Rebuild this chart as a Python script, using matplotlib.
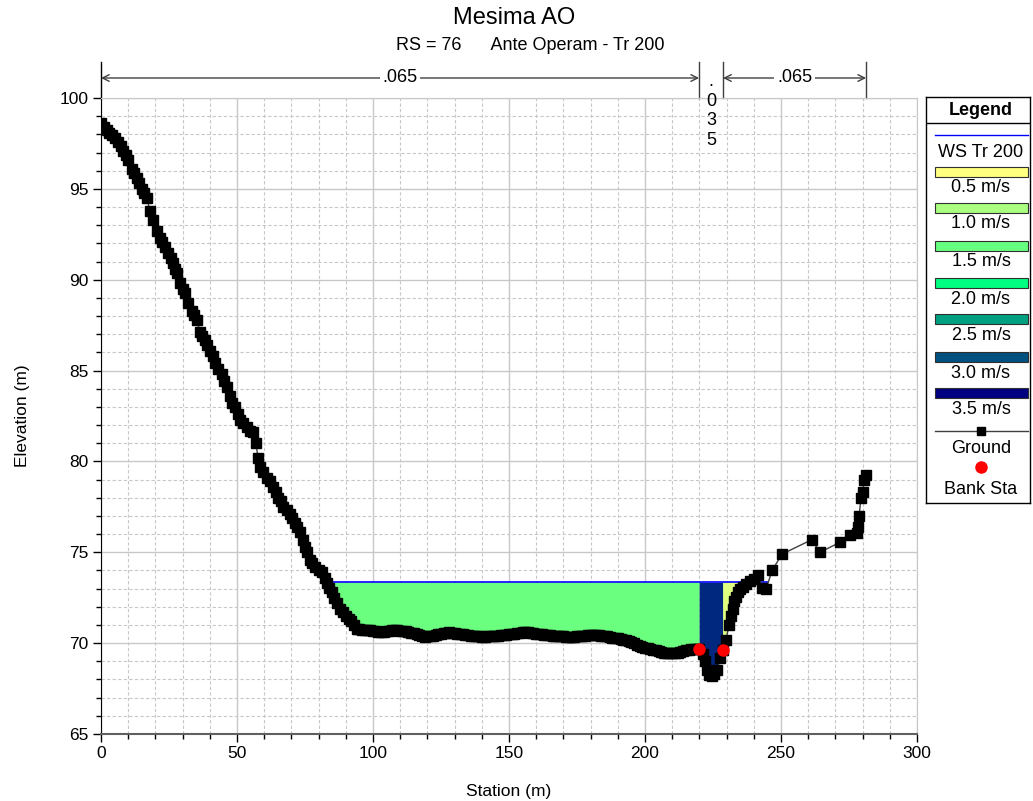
import numpy as np
import matplotlib
matplotlib.use('Agg')
import matplotlib.pyplot as plt
from matplotlib.transforms import blended_transform_factory
from matplotlib.patches import Rectangle
from matplotlib.ticker import MultipleLocator

# ============ Data ============
station = [0, 1.2, 2.1, 3.0, 3.9, 5.0, 6.4, 7.3, 8.2, 9.1, 10.0, 11.3, 12.2, 13.1, 14.0,
           14.9, 15.8, 16.8, 18.0, 19.2, 20.5, 21.7, 22.6, 23.5, 24.7, 25.6, 26.5, 27.3,
           28.0, 29.0, 30.0, 30.9, 32.1, 33.3, 34.2, 35.2, 36.4, 37.3, 38.2, 39.0, 40.1,
           41.2, 42.0, 43.0, 44.5, 45.3, 46.3, 47.3, 48.3, 49.3, 50.2, 51.1, 52.2, 53.5,
           54.8, 55.9, 57.0, 57.7, 58.5, 59.7, 61.0, 62.1, 63.2, 64.2, 65.1, 66.0, 66.9,
           68.2, 69.5, 70.4, 71.3, 72.2, 73.2, 74.1, 75.0, 75.9, 76.8, 77.7, 78.7, 80.0,
           81.3, 82.2, 83.1, 84.0, 84.9, 85.8, 86.8, 87.9,
           89, 90, 91, 92, 93, 94, 95, 96, 97, 98, 99, 100, 101, 102, 103, 104, 105, 106,
           107, 108, 109, 110, 111, 112, 113, 114, 115, 116, 117, 118, 119, 120, 121, 122,
           123, 124, 125, 126, 127, 128, 129, 130, 131, 132, 133, 134, 135, 136, 137, 138,
           139, 140, 141, 142, 143, 144, 145, 146, 147, 148, 149, 150, 151, 152, 153, 154,
           155, 156, 157, 158, 159, 160, 161, 162, 163, 164, 165, 166, 167, 168, 169, 170,
           171, 172, 173, 174, 175, 176, 177, 178, 179, 180, 181, 182, 183, 184, 185, 186,
           187, 188, 189, 190, 191, 192, 193, 194, 195, 196, 197, 198, 199, 200, 201, 202,
           203, 204, 205, 206, 207, 208, 209, 210, 211, 212, 213, 214, 215, 216, 217, 218,
           219, 219.9, 221.5, 222.1, 222.8, 223.6, 224.6, 225.5, 226.5, 227.6, 228.7, 229.8,
           230.9, 231.6, 232.2, 232.7, 233.4, 234.2, 235.0, 236.0, 237.3, 238.6, 240.0,
           241.5, 243.0, 244.6, 246.7, 250.4, 261.4, 264.3, 271.7, 275.4, 277.9, 278.3,
           278.7, 279.4, 280.1, 280.5, 281.3]
elevation = [98.65, 98.4, 98.25, 98.1, 97.95, 97.8, 97.6, 97.35, 97.1, 96.85, 96.6, 96.1,
             95.85, 95.6, 95.3, 95.0, 94.75, 94.5, 93.8, 93.3, 92.7, 92.3, 92.05, 91.8,
             91.45, 91.2, 90.9, 90.6, 90.35, 89.8, 89.5, 89.25, 88.7, 88.3, 88.05, 87.8,
             87.1, 86.9, 86.7, 86.4, 86.1, 85.8, 85.4, 85.1, 84.8, 84.4, 84.1, 83.6, 83.2,
             83.0, 82.6, 82.3, 82.1, 81.9, 81.7, 81.6, 81.0, 80.2, 79.7, 79.4, 79.1, 78.9,
             78.6, 78.3, 78.0, 77.8, 77.5, 77.3, 77.1, 76.9, 76.6, 76.4, 76.1, 75.7, 75.3,
             75.0, 74.6, 74.4, 74.2, 74.05, 73.9, 73.6, 73.3, 73.05, 72.8, 72.5, 72.2,
             71.9,
             71.7, 71.5, 71.35, 71.2, 71.0, 70.8, 70.78, 70.75, 70.72, 70.7, 70.7, 70.65,
             70.65, 70.6, 70.6, 70.62, 70.65, 70.68, 70.7, 70.7, 70.7, 70.68, 70.65, 70.65,
             70.6, 70.58, 70.55, 70.5, 70.45, 70.38, 70.35, 70.38, 70.4, 70.42, 70.45,
             70.48, 70.5, 70.55, 70.58, 70.6, 70.58, 70.55, 70.52, 70.5, 70.48, 70.45,
             70.45, 70.42, 70.4, 70.4, 70.38, 70.35, 70.35, 70.38, 70.4, 70.4, 70.4, 70.42,
             70.45, 70.45, 70.45, 70.48, 70.5, 70.52, 70.55, 70.58, 70.6, 70.6, 70.6,
             70.58, 70.55, 70.52, 70.5, 70.48, 70.45, 70.45, 70.45, 70.42, 70.4, 70.4,
             70.4, 70.38, 70.36, 70.35, 70.35, 70.36, 70.38, 70.4, 70.4, 70.42, 70.44,
             70.45, 70.45, 70.45, 70.44, 70.42, 70.4, 70.38, 70.34, 70.3, 70.28, 70.26,
             70.24, 70.2, 70.16, 70.1, 70.05, 70.0, 69.92, 69.86, 69.8, 69.76, 69.72,
             69.68, 69.64, 69.6, 69.56, 69.52, 69.48, 69.45, 69.45, 69.45, 69.46, 69.48,
             69.5, 69.55, 69.6, 69.64, 69.68, 69.7, 69.7, 69.7,
             69.4, 69.0, 68.5, 68.25, 68.2, 68.3, 68.5, 69.2, 69.65, 70.2, 71.0, 71.5,
             71.9, 72.3, 72.55, 72.8, 73.0, 73.1, 73.25, 73.4, 73.55, 73.75, 73.05, 73.0,
             74.0, 74.9, 75.7, 75.0, 75.55, 75.95, 76.05, 76.4, 77.0, 78.0, 78.3, 79.0,
             79.25]

bank_sta = [219.9, 228.7]
bank_elev = [69.7, 69.65]
ws_elev = 73.35
ws_left, ws_right = 83.0, 245.3
mann_n = ['.065', '.035', '.065']

vel_labels = ['0.5 m/s', '1.0 m/s', '1.5 m/s', '2.0 m/s', '2.5 m/s', '3.0 m/s', '3.5 m/s']
vel_colors = ['#FFFF80', '#AAFF80', '#66FF80', '#00FF80', '#00A080', '#005080', '#000080']
sub_colors = ['#6BFF7F', '#00287F', '#E0FF80']   # LOB, channel, ROB

plt.rcParams['font.family'] = ['Liberation Sans', 'DejaVu Sans']

fig = plt.figure(figsize=(10.33, 8.01), dpi=100)
ax = fig.add_axes([101/1033, 1 - 734/801, 816/1033, 636/801])

st = np.array(station)
el = np.array(elevation)

# ============ Velocity fill per subsection ============
x_all = np.unique(np.concatenate([st, bank_sta]))
g_all = np.interp(x_all, st, el)
wet = (g_all <= ws_elev) & (x_all <= ws_right)
ax.fill_between(x_all, g_all, ws_elev, where=wet & (x_all <= bank_sta[0]),
                interpolate=True, color=sub_colors[0], lw=0, zorder=2)
ax.fill_between(x_all, g_all, ws_elev, where=wet & (x_all >= bank_sta[0]) & (x_all <= bank_sta[1]),
                interpolate=True, color=sub_colors[1], lw=0, zorder=2)
ax.fill_between(x_all, g_all, ws_elev, where=wet & (x_all >= bank_sta[1]),
                interpolate=True, color=sub_colors[2], lw=0, zorder=2)

ax.plot([ws_left, ws_right], [ws_elev, ws_elev], color='#0000FF', lw=1.2, zorder=3)
ax.plot(st, el, color='#404040', lw=1, marker='s', ms=6.5, mfc='black', mec='black', zorder=4)
ax.plot(bank_sta, bank_elev, 'o', color='red', ms=8, zorder=5, lw=0)

# ============ Axes ============
ax.set_xlim(0, 300)
ax.set_ylim(65, 100)
ax.xaxis.set_major_locator(MultipleLocator(50))
ax.xaxis.set_minor_locator(MultipleLocator(10))
ax.yaxis.set_major_locator(MultipleLocator(5))
ax.yaxis.set_minor_locator(MultipleLocator(1))
ax.grid(which='major', color='#C8C8C8', lw=1, ls='-', zorder=0)
ax.grid(which='minor', color='#C8C8C8', lw=0.8, ls=(0, (3, 2)), zorder=0)
ax.set_axisbelow(True)
ax.tick_params(which='major', direction='out', length=6, width=1, labelsize=12.5, pad=3)
ax.tick_params(which='minor', direction='out', length=3.6, width=1)
for s in ['top', 'right']:
    ax.spines[s].set_color('#C8C8C8')
ax.spines['left'].set_color('black')
ax.spines['bottom'].set_color('#606060')
ax.spines['bottom'].set_linewidth(1.5)
ax.set_xlabel('Station (m)', fontsize=12.5, labelpad=16)
ax.set_ylabel('Elevation (m)', fontsize=12.5, labelpad=21)

# ============ Title ============
fig.text(514/1033, 1 - 18/801, 'Mesima AO', ha='center', va='center', fontsize=17)
fig.text(530/1033, 1 - 45/801, 'RS = 76      Ante Operam - Tr 200', ha='center', va='center', fontsize=13)

# ============ Manning's n brackets ============
trans = blended_transform_factory(ax.transData, ax.transAxes)
y_arr = 1 + 20/636
y_top = 1 + 36/636
edges = [station[0], bank_sta[0], bank_sta[1], station[-1]]
for xe in edges:
    ax.plot([xe, xe], [1, y_top], transform=trans, color='black' if xe == edges[0] else '#404040',
            lw=1, clip_on=False)
for i in (0, 2):
    ax.annotate('', xy=(edges[i], y_arr), xytext=(edges[i + 1], y_arr), xycoords=trans,
                textcoords=trans, annotation_clip=False,
                arrowprops=dict(arrowstyle='<->', color='#404040', lw=1, shrinkA=0, shrinkB=0,
                                mutation_scale=12))
    ax.text((edges[i] + edges[i + 1]) / 2, y_arr, mann_n[i], transform=trans, ha='center',
            va='center', fontsize=13, clip_on=False,
            bbox=dict(fc='white', ec='none', pad=2))
ax.text((edges[1] + edges[2]) / 2, 1 + 25/636, '\n'.join(mann_n[1]), transform=trans,
        ha='center', va='top', fontsize=13, linespacing=1.2, clip_on=False, zorder=6)

# ============ Legend ============
lg = fig.add_axes([926/1033, 1 - 503/801, 104/1033, 406/801])
lg.set_xlim(926, 1030)
lg.set_ylim(503, 97)
lg.set_xticks([])
lg.set_yticks([])
for s in lg.spines.values():
    s.set_color('black')
    s.set_linewidth(1)
xc = 981
fs = 13
lg.text(xc, 115, 'Legend', ha='center', va='baseline', fontsize=fs, fontweight='bold')
lg.plot([926, 1030], [123, 123], color='black', lw=1)
lg.plot([935, 1028], [135, 135], color='#0000FF', lw=1)
lg.text(xc, 157, 'WS Tr 200', ha='center', va='baseline', fontsize=fs)
rect_tops = [167, 203, 241, 278, 314, 352, 388]
for top, lab, col in zip(rect_tops, vel_labels, vel_colors):
    lg.add_patch(Rectangle((935, top), 93, 10, fc=col, ec='#303030', lw=0.8))
    lg.text(xc, top + 25.5, lab, ha='center', va='baseline', fontsize=fs)
lg.plot([935, 1028], [431, 431], color='#404040', lw=1)
lg.plot([xc], [431], 's', color='black', ms=6)
lg.text(xc, 453, 'Ground', ha='center', va='baseline', fontsize=fs)
lg.plot([xc], [467], 'o', color='red', ms=8)
lg.text(xc, 494, 'Bank Sta', ha='center', va='baseline', fontsize=fs)

fig.savefig('out.png', dpi=100)
